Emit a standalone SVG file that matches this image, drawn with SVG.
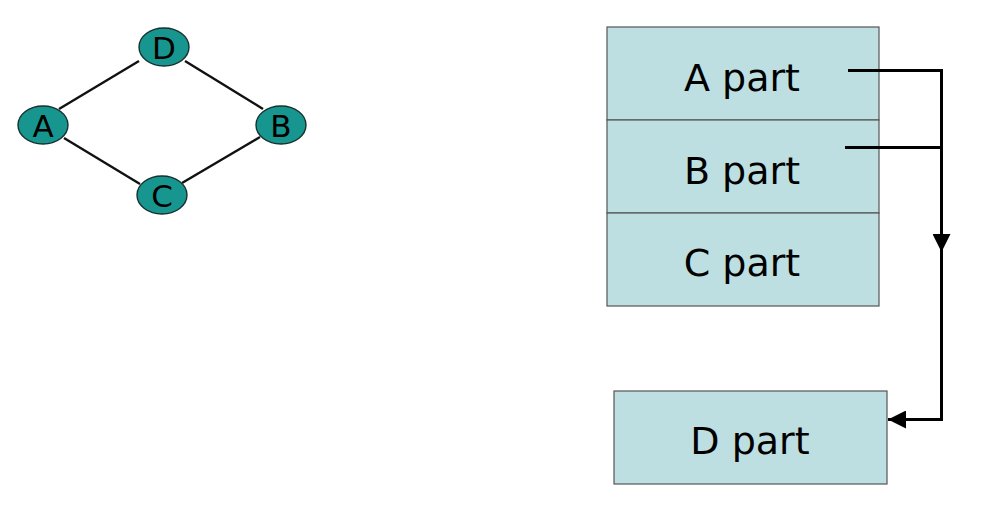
<svg xmlns="http://www.w3.org/2000/svg" width="982" height="512" viewBox="0 0 982 512">
<style>
.node{fill:#17968f;stroke:#16302f;stroke-width:1.4}
.lbl{font-family:"DejaVu Sans",Verdana,sans-serif;fill:#000;text-anchor:middle}
.part{fill:#bddfe1;stroke:#555;stroke-width:1.2}
.edge{stroke:#111;stroke-width:2.4;fill:none}
.conn{stroke:#000;stroke-width:3;fill:none}
</style>
<defs>
<marker id="ah" viewBox="0 0 10 10" refX="10" refY="5" markerWidth="6" markerHeight="6" markerUnits="strokeWidth" orient="auto">
<path d="M0,0 L10,5 L0,10 Z" fill="#000"/>
</marker>
</defs>
<rect width="982" height="512" fill="#fff"/>
<g id="graph-edges">
<line class="edge" x1="139" y1="61" x2="59" y2="109"/>
<line class="edge" x1="185" y1="61" x2="263" y2="109"/>
<line class="edge" x1="64" y1="138" x2="140" y2="184"/>
<line class="edge" x1="182" y1="183" x2="260" y2="137"/>
</g>
<g id="nodeD"><ellipse class="node" cx="164" cy="47" rx="25" ry="19"/><text class="lbl" x="164" y="58.5" font-size="31">D</text></g>
<g id="nodeA"><ellipse class="node" cx="43" cy="125" rx="25" ry="19"/><text class="lbl" x="43" y="136.5" font-size="31">A</text></g>
<g id="nodeB"><ellipse class="node" cx="281" cy="125" rx="25" ry="19"/><text class="lbl" x="281" y="136.5" font-size="31">B</text></g>
<g id="nodeC"><ellipse class="node" cx="162" cy="195" rx="25" ry="19"/><text class="lbl" x="162" y="206.5" font-size="31">C</text></g>
<g id="Apart"><rect class="part" x="607" y="27" width="272" height="93"/><text class="lbl" x="742" y="91" font-size="38">A part</text></g>
<g id="Bpart"><rect class="part" x="607" y="120" width="272" height="93"/><text class="lbl" x="742" y="184" font-size="38">B part</text></g>
<g id="Cpart"><rect class="part" x="607" y="213" width="272" height="93"/><text class="lbl" x="742" y="276" font-size="38">C part</text></g>
<g id="Dpart"><rect class="part" x="614" y="391" width="273" height="93"/><text class="lbl" x="750" y="454" font-size="38">D part</text></g>
<g id="connectors">
<path class="conn" d="M848,70.5 H941.5 V252" marker-end="url(#ah)"/>
<path class="conn" d="M845,147.5 H941.5"/>
<path class="conn" d="M941.5,250 V419.5 H888" marker-end="url(#ah)"/>
</g>
</svg>
